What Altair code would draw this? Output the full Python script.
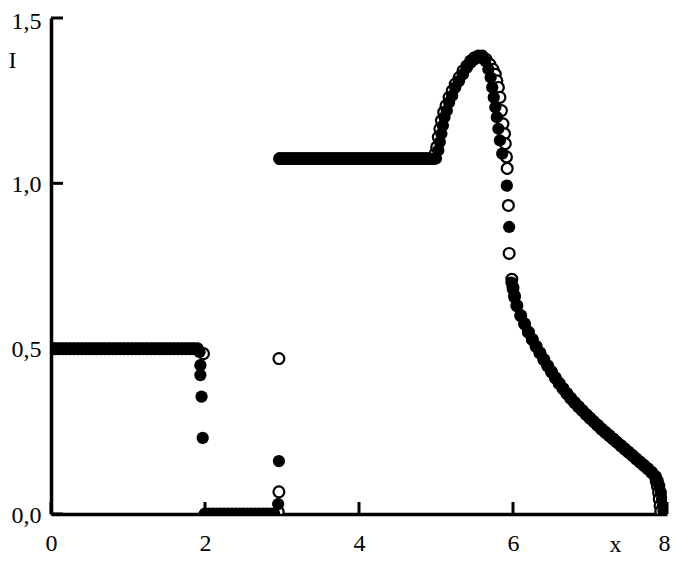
import altair as alt
import pandas as pd

# ---------------- data ----------------
LOW_LEVEL = 0.5
ZERO_LEVEL = 0.0
HIGH_LEVEL = 1.075

low_plateau_x = [0.00, 0.05, 0.10, 0.15, 0.20, 0.25, 0.30, 0.35, 0.40, 0.45,
                 0.50, 0.55, 0.60, 0.65, 0.70, 0.75, 0.80, 0.85, 0.90, 0.95,
                 1.00, 1.05, 1.10, 1.15, 1.20, 1.25, 1.30, 1.35, 1.40, 1.45,
                 1.50, 1.55, 1.60, 1.65, 1.70, 1.75, 1.80, 1.85, 1.90]
zero_plateau_x = [2.00, 2.05, 2.10, 2.15, 2.20, 2.25, 2.30, 2.35, 2.40, 2.45,
                  2.50, 2.55, 2.60, 2.65, 2.70, 2.75, 2.80, 2.85, 2.90]
high_plateau_x = [2.97, 3.02, 3.07, 3.12, 3.17, 3.22, 3.27, 3.32, 3.37, 3.42,
                  3.47, 3.52, 3.57, 3.62, 3.67, 3.72, 3.77, 3.82, 3.87, 3.92,
                  3.97, 4.02, 4.07, 4.12, 4.17, 4.22, 4.27, 4.32, 4.37, 4.42,
                  4.47, 4.52, 4.57, 4.62, 4.67, 4.72, 4.77, 4.82, 4.87, 4.92, 4.97]

# filled-circle series, special parts
filled_drop2_x = [1.93, 1.94, 1.94, 1.955, 1.97]
filled_drop2_y = [0.49, 0.45, 0.42, 0.355, 0.23]
filled_jump3_x = [2.95, 2.96]
filled_jump3_y = [0.03, 0.16]
filled_bump_x = [5.00, 5.03, 5.05, 5.07, 5.09, 5.11, 5.14, 5.17, 5.21, 5.25,
                 5.30, 5.35, 5.40, 5.45, 5.50, 5.55, 5.60, 5.64, 5.68, 5.71,
                 5.73, 5.75, 5.77, 5.79, 5.81, 5.83, 5.86, 5.92, 5.95]
filled_bump_y = [1.075, 1.10, 1.125, 1.15, 1.175, 1.20, 1.22, 1.245, 1.265, 1.29,
                 1.31, 1.33, 1.35, 1.365, 1.375, 1.38, 1.38, 1.37, 1.345, 1.32,
                 1.29, 1.26, 1.23, 1.20, 1.165, 1.13, 1.09, 0.993, 0.868]
filled_decay_start_x = [5.98, 6.00, 6.02]
filled_decay_start_y = [0.70, 0.68, 0.655]
filled_decay_end_x = [7.88, 7.90, 7.92, 7.935, 7.945, 7.955]
filled_decay_end_y = [0.10, 0.085, 0.065, 0.045, 0.025, 0.008]

# shared decay tail
decay_x = [6.05, 6.10, 6.15, 6.20, 6.25, 6.30, 6.35, 6.40, 6.45, 6.50,
           6.55, 6.60, 6.65, 6.70, 6.75, 6.80, 6.85, 6.90, 6.95, 7.00,
           7.05, 7.10, 7.15, 7.20, 7.25, 7.30, 7.35, 7.40, 7.45, 7.50,
           7.55, 7.60, 7.65, 7.70, 7.75, 7.80, 7.85]
decay_y = [0.63, 0.60, 0.575, 0.55, 0.528, 0.507, 0.487, 0.467, 0.448, 0.43,
           0.412, 0.395, 0.379, 0.364, 0.35, 0.337, 0.325, 0.313, 0.301, 0.29,
           0.279, 0.268, 0.257, 0.247, 0.237, 0.227, 0.217, 0.207, 0.197, 0.187,
           0.177, 0.167, 0.157, 0.147, 0.137, 0.126, 0.113]

# open-circle series, special parts
open_drop2_x = [1.98]
open_drop2_y = [0.485]
open_jump3_x = [2.95, 2.96, 2.96]
open_jump3_y = [0.007, 0.067, 0.47]
open_bump_x = [4.96, 4.99, 5.01, 5.03, 5.05, 5.07, 5.10, 5.13, 5.17, 5.21,
               5.25, 5.30, 5.35, 5.40, 5.45, 5.50, 5.55, 5.60, 5.65, 5.70,
               5.74, 5.77, 5.79, 5.81, 5.83, 5.85, 5.87, 5.89, 5.90, 5.915,
               5.925, 5.94, 5.95]
open_bump_y = [1.075, 1.09, 1.11, 1.14, 1.165, 1.19, 1.215, 1.235, 1.26, 1.28,
               1.30, 1.32, 1.34, 1.355, 1.37, 1.38, 1.385, 1.385, 1.375, 1.36,
               1.345, 1.33, 1.31, 1.29, 1.26, 1.22, 1.18, 1.15, 1.12, 1.08,
               1.045, 0.933, 0.788]
open_decay_start_x = [5.985, 6.00, 6.02]
open_decay_start_y = [0.71, 0.685, 0.66]
open_decay_end_x = [7.86, 7.875, 7.89, 7.90, 7.91, 7.92]
open_decay_end_y = [0.10, 0.085, 0.065, 0.045, 0.025, 0.008]

x_ticks = [0, 2, 4, 6, 8]
y_ticks = [0.0, 0.5, 1.0, 1.5]

# ---------------- build tables ----------------
def pts(xs, ys):
    return list(zip(xs, ys))

filled_pts = (pts(low_plateau_x, [LOW_LEVEL] * len(low_plateau_x))
              + pts(filled_drop2_x, filled_drop2_y)
              + pts(zero_plateau_x, [ZERO_LEVEL] * len(zero_plateau_x))
              + pts(filled_jump3_x, filled_jump3_y)
              + pts(high_plateau_x, [HIGH_LEVEL] * len(high_plateau_x))
              + pts(filled_bump_x, filled_bump_y)
              + pts(filled_decay_start_x, filled_decay_start_y)
              + pts(decay_x, decay_y)
              + pts(filled_decay_end_x, filled_decay_end_y))
open_pts = (pts(low_plateau_x, [LOW_LEVEL] * len(low_plateau_x))
            + pts(open_drop2_x, open_drop2_y)
            + pts(zero_plateau_x, [ZERO_LEVEL] * len(zero_plateau_x))
            + pts(open_jump3_x, open_jump3_y)
            + pts(high_plateau_x[:-1], [HIGH_LEVEL] * (len(high_plateau_x) - 1))
            + pts(open_bump_x, open_bump_y)
            + pts(open_decay_start_x, open_decay_start_y)
            + pts(decay_x, decay_y)
            + pts(open_decay_end_x, open_decay_end_y))

filled_df = pd.DataFrame(filled_pts, columns=["x", "I"])
open_df = pd.DataFrame(open_pts, columns=["x", "I"])
xt_df = pd.DataFrame({"x": x_ticks})
yt_df = pd.DataFrame({"I": y_ticks})

W, H = 616, 496
FONT = "Liberation Serif"
FS = 24

xscale = alt.Scale(domain=[0, 8], nice=False, zero=False)
yscale = alt.Scale(domain=[0, 1.5], nice=False, zero=False)

xaxis = alt.Axis(values=x_ticks, format="d", ticks=False, grid=False,
                 domainColor="black", domainWidth=3.5,
                 labelFont=FONT, labelFontSize=FS, labelColor="black",
                 labelPadding=17, labelFlush=False, labelOverlap=False,
                 labelOffset={"condition": {"test": "datum.value == 8",
                                            "value": -3}, "value": 0},
                 title="x", titleFont=FONT, titleFontSize=FS,
                 titleFontWeight="normal", titleColor="black",
                 titleX=564, titleY=30, titleAlign="center",
                 titleBaseline="middle")
yaxis = alt.Axis(values=y_ticks, ticks=False, grid=False,
                 labelExpr="replace(format(datum.value, '.1f'), '.', ',')",
                 domainColor="black", domainWidth=3.5,
                 labelFont=FONT, labelFontSize=FS, labelColor="black",
                 labelPadding=10, labelFlush=False, labelOverlap=False,
                 labelOffset={"condition": {"test": "datum.value == 1.5",
                                            "value": 3}, "value": 1},
                 title="I", titleFont=FONT, titleFontSize=FS,
                 titleFontWeight="normal", titleColor="black", titleAngle=0,
                 titleX=-39, titleY=42, titleAlign="center",
                 titleBaseline="middle")

X = alt.X("x:Q", scale=xscale, axis=xaxis, title="x")
Y = alt.Y("I:Q", scale=yscale, axis=yaxis, title="I")

open_layer = alt.Chart(open_df).mark_point(
    shape="circle", filled=True, fill="white", stroke="black",
    strokeWidth=2.2, size=118, opacity=1, clip=True
).encode(x=X, y=Y)

filled_layer = alt.Chart(filled_df).mark_circle(
    color="black", size=150, opacity=1, clip=True
).encode(x=X, y=Y)

xtick_layer = alt.Chart(xt_df).mark_rule(color="black", strokeWidth=3).encode(
    x=X,
    y=alt.value(H),
    y2=alt.value(H - 12),
)
ytick_layer = alt.Chart(yt_df).mark_rule(color="black", strokeWidth=3).encode(
    y=Y,
    x=alt.value(0),
    x2=alt.value(12),
)

chart = alt.layer(open_layer, filled_layer, xtick_layer, ytick_layer).properties(
    width=W, height=H,
    autosize=alt.AutoSizeParams(type="none"),
    padding={"left": 43, "top": 10, "right": 3, "bottom": 41},
    background="white",
).configure_view(stroke=None)

chart.save("out.html", embed_options={"renderer": "svg", "actions": False})
